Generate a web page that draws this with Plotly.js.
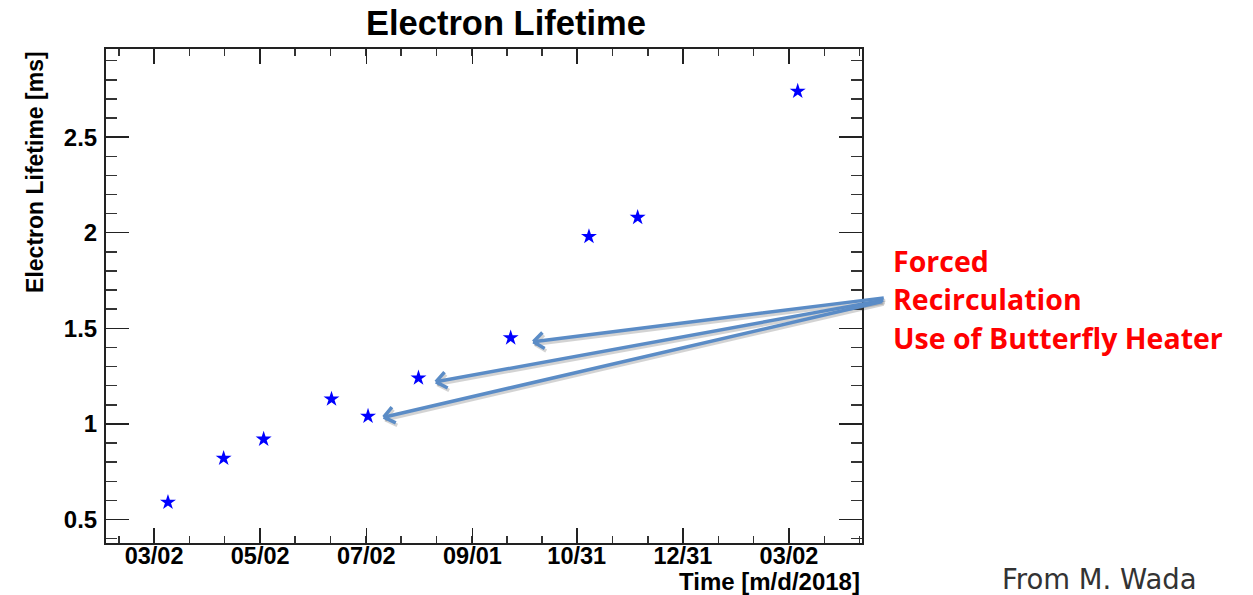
<!DOCTYPE html>
<html>
<head>
<meta charset="utf-8">
<script src="https://cdn.plot.ly/plotly-3.0.1.min.js"></script>
<style>
  html, body { margin: 0; padding: 0; background: #ffffff; }
  #chart { width: 1253px; height: 595px; }
</style>
</head>
<body>
<div id="chart"></div>
<script>
// ---- data ----
const dates = [
  '2018-03-10', '2018-04-11', '2018-05-04', '2018-06-12', '2018-07-03',
  '2018-08-01', '2018-09-23', '2018-11-07', '2018-12-05', '2019-03-07'
];
const lifetime = [0.59, 0.82, 0.92, 1.13, 1.04, 1.24, 1.45, 1.98, 2.08, 2.74];

const xTickVals = ['2018-03-02', '2018-05-02', '2018-07-02', '2018-09-01', '2018-10-31', '2018-12-31', '2019-03-02'];
const xTickText = ['03/02', '05/02', '07/02', '09/01', '10/31', '12/31', '03/02'];
const yTickVals = [0.5, 1, 1.5, 2, 2.5];
const yTickText = ['0.5', '1', '1.5', '2', '2.5'];

// arrow tips (data coordinates) for the "Forced Recirculation" note
const arrowTipDates = ['2018-10-06', '2018-08-11', '2018-07-12'];
const arrowTipValues = [1.43, 1.22, 1.035];

const titleText = 'Electron Lifetime';
const yTitleText = 'Electron Lifetime [ms]';
const xTitleText = 'Time [m/d/2018]';
const noteLines = ['Forced', 'Recirculation', 'Use of Butterfly Heater'];
const creditText = 'From M. Wada';

// ---- layout / style ----
const F = 'Liberation Sans, Arial, Helvetica, sans-serif';
const arrowColor = '#5b8cc6';
const shadowColor = 'rgba(60,60,60,0.22)';
// tail offsets (pixels from tip)
const tailOffsets = [[352, -44], [449, -82], [500, -116]];

const bold = arr => arr.map(t => '<b>' + t + '</b>');

const annotations = [];
// arrows: shadow + shaft + open V head
function addArrow(i, color, xs, ys) {
  const off = tailOffsets[i];
  annotations.push({
    x: arrowTipDates[i], y: arrowTipValues[i], xref: 'x', yref: 'y',
    ax: off[0], ay: off[1], text: '', showarrow: true, xshift: xs, yshift: ys,
    arrowhead: 0, arrowwidth: 3.5, arrowcolor: color, standoff: 0
  });
  const len = Math.hypot(off[0], off[1]);
  const ux = off[0] / len, uy = off[1] / len;
  const hl = 15, ang = 38 * Math.PI / 180;
  [ang, -ang].forEach(a => {
    const rx = ux * Math.cos(a) - uy * Math.sin(a);
    const ry = ux * Math.sin(a) + uy * Math.cos(a);
    annotations.push({
      x: arrowTipDates[i], y: arrowTipValues[i], xref: 'x', yref: 'y',
      ax: rx * hl, ay: ry * hl, text: '', showarrow: true, xshift: xs, yshift: ys,
      arrowhead: 0, arrowwidth: 3.5, arrowcolor: color, standoff: 0
    });
  });
}
tailOffsets.forEach((o, i) => addArrow(i, shadowColor, 1.5, -2.5));
tailOffsets.forEach((o, i) => addArrow(i, arrowColor, 0, 0));

// red note
const noteY = [0.57, 0.493, 0.414];
noteLines.forEach((t, i) => {
  annotations.push({
    text: '<b>' + t + '</b>', xref: 'paper', yref: 'paper',
    x: 1.039, y: noteY[i], xanchor: 'left', yanchor: 'middle',
    showarrow: false, align: 'left',
    font: { family: 'Open Sans, sans-serif', size: 28.5, color: '#ff0000' }
  });
});

// y-axis title (right aligned to top, ROOT style)
annotations.push({
  text: '<b>' + yTitleText + '</b>', xref: 'paper', yref: 'paper',
  x: -0.094, y: 1.0, xanchor: 'center', yanchor: 'top', textangle: -90,
  showarrow: false, font: { family: F, size: 23, color: '#000' }
});
// x-axis title
annotations.push({
  text: '<b>' + xTitleText + '</b>', xref: 'paper', yref: 'paper',
  x: 1.0, y: -0.078, xanchor: 'right', yanchor: 'middle',
  showarrow: false, font: { family: F, size: 24, color: '#000' }
});
// credit
annotations.push({
  text: creditText, xref: 'paper', yref: 'paper',
  x: 1.1825, y: -0.072, xanchor: 'left', yanchor: 'middle',
  showarrow: false, font: { family: 'DejaVu Sans, sans-serif', size: 27.5, color: '#333333' }
});

const trace = {
  x: dates, y: lifetime, type: 'scatter', mode: 'markers',
  marker: { symbol: 'star', size: 12, color: '#0000ff', line: { width: 0 } },
  hoverinfo: 'x+y', showlegend: false
};

const layout = {
  width: 1253, height: 595,
  margin: { l: 106, r: 391, t: 49, b: 52, pad: 0 },
  paper_bgcolor: '#ffffff', plot_bgcolor: '#ffffff',
  showlegend: false,
  title: {
    text: '<b>' + titleText + '</b>', xref: 'paper', yref: 'container',
    x: 0.529, xanchor: 'center', y: 0.962, yanchor: 'middle',
    font: { family: F, size: 34.5, color: '#000' }
  },
  xaxis: {
    type: 'date',
    range: ['2018-02-02 09:00', '2019-04-12 23:00'],
    tickmode: 'array', tickvals: xTickVals, ticktext: bold(xTickText),
    ticks: 'inside', ticklen: 15, tickwidth: 1.5, tickcolor: '#222',
    minor: { ticks: 'inside', ticklen: 7, tickwidth: 1.5, tickcolor: '#333', tick0: '2018-03-02', dtick: 1752000000, showgrid: false },
    showline: true, linecolor: '#222', linewidth: 2, mirror: 'allticks',
    showgrid: false, zeroline: false,
    tickfont: { family: F, size: 23.5, color: '#000' },
    ticklabelstandoff: -9
  },
  yaxis: {
    range: [0.377, 2.961],
    tickmode: 'array', tickvals: yTickVals, ticktext: bold(yTickText),
    ticks: 'inside', ticklen: 23, tickwidth: 1.5, tickcolor: '#222',
    minor: { ticks: 'inside', ticklen: 11, tickwidth: 1.5, tickcolor: '#333', tick0: 0, dtick: 0.1, showgrid: false },
    showline: true, linecolor: '#222', linewidth: 2, mirror: 'allticks',
    showgrid: false, zeroline: false,
    tickfont: { family: F, size: 24, color: '#000' },
    ticklabelstandoff: 2
  },
  annotations: annotations
};

Plotly.newPlot('chart', [trace], layout, { displayModeBar: false, staticPlot: true });
</script>
</body>
</html>
